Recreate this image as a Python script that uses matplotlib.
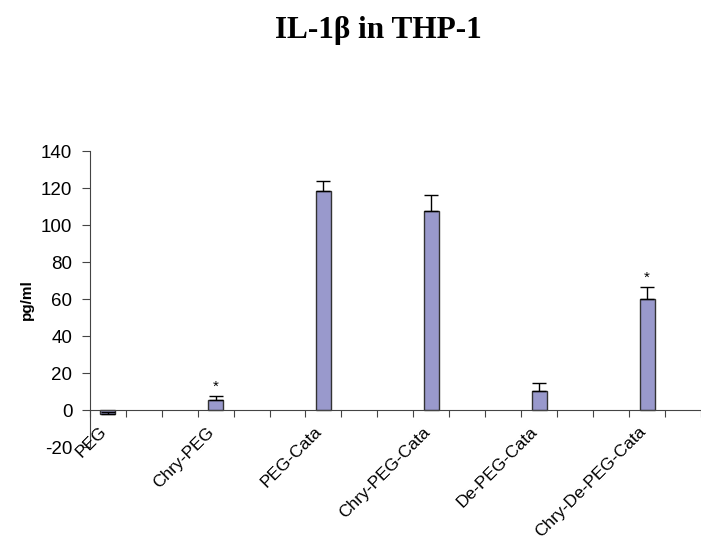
import numpy as np
import matplotlib.pyplot as plt
from matplotlib.transforms import ScaledTranslation

plt.rcParams["axes.unicode_minus"] = False

# values (pg/ml)
categories = ["PEG", "Chry-PEG", "PEG-Cata", "Chry-PEG-Cata", "De-PEG-Cata", "Chry-De-PEG-Cata"]
values = [-2.2, 5.5, 118.5, 107.5, 10.5, 60.0]
errors = [1.0, 2.3, 5.5, 9.0, 4.4, 6.6]
significant = [False, True, False, False, False, True]

SLOT_STEP = 3  # each group sits on every third category slot
N_SLOTS = 17

fig = plt.figure(figsize=(7.01, 5.4), dpi=100)
ax = fig.add_axes([0.128, 0.172, 0.872, 0.548])

x = np.arange(len(categories)) * SLOT_STEP
ax.bar(x, values, width=0.42, color="#9999CC", edgecolor="#333333", linewidth=1.0, zorder=2)
ax.errorbar(x, values, yerr=[np.zeros(len(errors)), errors], fmt="none",
            ecolor="black", elinewidth=1.0, capsize=5, capthick=1.0, zorder=3)

for xi, v, e, s in zip(x, values, errors, significant):
    if s:
        ax.text(xi, v + e + 1.0, "*", ha="center", va="bottom", fontsize=11,
                family="Liberation Sans")

ax.set_xlim(-0.5, 16.29)
ax.set_ylim(-20, 140)
ax.set_yticks(np.arange(-20, 141, 20))

for side in ["top", "right"]:
    ax.spines[side].set_visible(False)
ax.spines["bottom"].set_position(("data", 0))
ax.spines["left"].set_color("#444444")
ax.spines["bottom"].set_color("#444444")

# tick marks between categories (Excel style)
ax.set_xticks(np.arange(-0.5, N_SLOTS, 1.0))
ax.set_xticklabels([])
ax.tick_params(axis="x", which="major", length=5, color="#444444", direction="out")
ax.tick_params(axis="y", length=6, color="#444444", labelsize=13.5, pad=6.5)
for lab in ax.get_yticklabels():
    lab.set_family("Liberation Sans")

# rotated category labels hanging below the zero line
offset = ScaledTranslation(-9 / 100, -14 / 100, fig.dpi_scale_trans)
for xi, name in zip(x, categories):
    ax.text(xi, 0, name, rotation=45, ha="right", va="top", rotation_mode="anchor",
            fontsize=12.5, family="Liberation Sans", transform=ax.transData + offset,
            clip_on=False)

ax.set_ylabel("pg/ml", fontsize=11, fontweight="bold", family="Liberation Sans")
ax.yaxis.set_label_coords(-0.092, 0.5)

fig.text(0.54, 0.9296, "IL-1β in THP-1", ha="center", va="baseline", fontsize=22.5,
         fontweight="bold", family="Liberation Serif")

fig.savefig("out.png", dpi=100)
